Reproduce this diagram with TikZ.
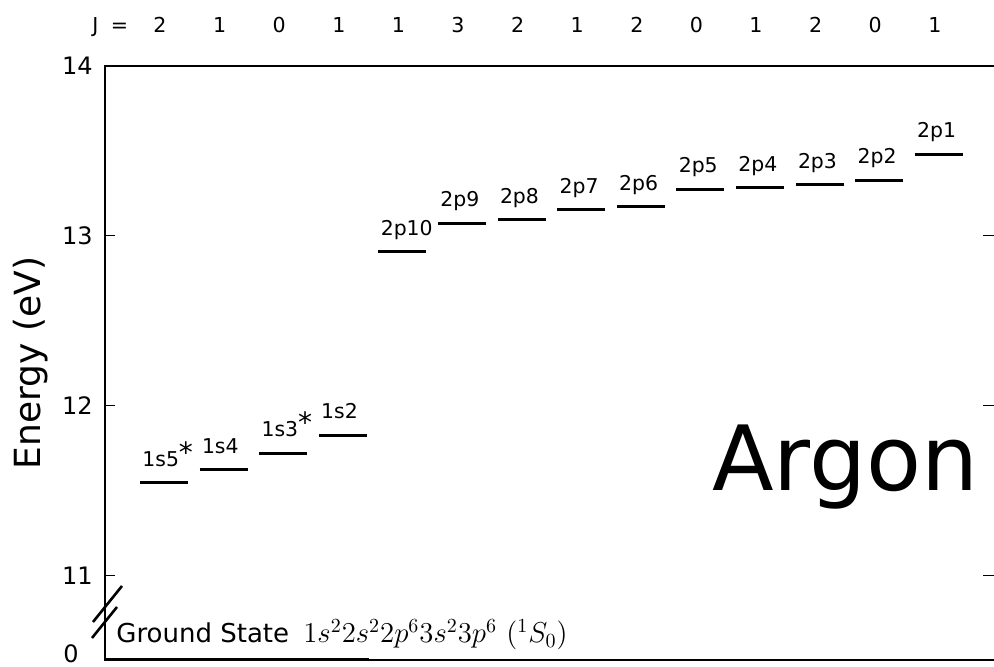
\documentclass[tikz,border=0pt]{standalone}
\usepackage{fontspec}
\setmainfont{DejaVu Sans}
\usepackage{tikz}

\newcommand{\lvlstar}{\raisebox{1.8pt}{\fontsize{14}{14}\selectfont *}}

\begin{document}
\begin{tikzpicture}[
      x=0.5pt, y=85pt,
      spine/.style={line width=1pt},
      tick/.style={line width=0.5pt},
      lvl/.style={line width=1.5pt},
      brk/.style={line width=1.3pt},
      lbl/.style={anchor=base west, inner sep=0pt, yshift=8.3pt, font=\fontsize{10.2}{12}\selectfont},
      jval/.style={anchor=base, inner sep=0pt, font=\fontsize{10.3}{12}\selectfont},
      ticklbl/.style={anchor=east, inner sep=0pt, font=\fontsize{12}{14}\selectfont}
    ]
    \useasboundingbox (0,10.4647) rectangle (994,14.3882);
    %% axes
    \draw[spine] (994,14) -- (105,14) -- (105,10.5059) -- (994,10.5059);
    \draw[tick] (105,11) -- (115,11);
    \draw[tick] (105,12) -- (115,12);
    \draw[tick] (105,13) -- (115,13);
    \draw[tick] (983,11) -- (994,11);
    \draw[tick] (983,12) -- (994,12);
    \draw[tick] (983,13) -- (994,13);
    \node[ticklbl] (t14) at (93,14) {14};
    \node[ticklbl] (t13) at (93,13) {13};
    \node[ticklbl] (t12) at (93,12) {12};
    \node[ticklbl] (t11) at (93,11) {11};
    \node[ticklbl] (t0)  at (79,10.545) {0};
    \node[rotate=90, anchor=base, inner sep=0pt, font=\fontsize{18}{20}\selectfont] (ylab) at (40,12.253) {Energy (eV)};
    %% axis break
    \draw[brk] (93,10.7294) -- (122,10.9412);
    \draw[brk] (92,10.6353) -- (117,10.8176);
    %% ground state
    \draw[lvl] (105,10.5059) -- (369,10.5059);
    \node[anchor=base west, inner sep=0pt, font=\fontsize{13}{15}\selectfont] (gs) at (116,10.6059)
      {Ground State\hspace{3pt} {\fontsize{14.7}{16}\selectfont $1s^2 2s^2 2p^6 3s^2 3p^6$ $(^1S_0)$}};
    %% 1s levels
    \draw[lvl] (140,11.548) -- ++(48,0);
    \node[lbl] (n1s5) at (142,11.548) {1s5\lvlstar};
    \draw[lvl] (199.6,11.624) -- ++(48,0);
    \node[lbl] (n1s4) at (201.6,11.624) {1s4};
    \draw[lvl] (259.2,11.723) -- ++(48,0);
    \node[lbl] (n1s3) at (261.2,11.723) {1s3\lvlstar};
    \draw[lvl] (318.8,11.828) -- ++(48,0);
    \node[lbl] (n1s2) at (320.8,11.828) {1s2};
    %% 2p levels
    \draw[lvl] (378.4,12.907) -- ++(48,0);
    \node[lbl] (n2p10) at (380.4,12.907) {2p10};
    \draw[lvl] (438,13.076) -- ++(48,0);
    \node[lbl] (n2p9) at (440,13.076) {2p9};
    \draw[lvl] (497.6,13.095) -- ++(48,0);
    \node[lbl] (n2p8) at (499.6,13.095) {2p8};
    \draw[lvl] (557.2,13.153) -- ++(48,0);
    \node[lbl] (n2p7) at (559.2,13.153) {2p7};
    \draw[lvl] (616.8,13.172) -- ++(48,0);
    \node[lbl] (n2p6) at (618.8,13.172) {2p6};
    \draw[lvl] (676.4,13.273) -- ++(48,0);
    \node[lbl] (n2p5) at (678.4,13.273) {2p5};
    \draw[lvl] (736,13.283) -- ++(48,0);
    \node[lbl] (n2p4) at (738,13.283) {2p4};
    \draw[lvl] (795.6,13.302) -- ++(48,0);
    \node[lbl] (n2p3) at (797.6,13.302) {2p3};
    \draw[lvl] (855.2,13.328) -- ++(48,0);
    \node[lbl] (n2p2) at (857.2,13.328) {2p2};
    \draw[lvl] (914.8,13.480) -- ++(48,0);
    \node[lbl] (n2p1) at (916.8,13.480) {2p1};
    %% J values
    \node[jval, anchor=base west] (jeq) at (92,14.194) {J\hspace{0.6em}=};
    \node[jval] (j1s5)  at (160,14.194) {2};
    \node[jval] (j1s4)  at (219.6,14.194) {1};
    \node[jval] (j1s3)  at (279.2,14.194) {0};
    \node[jval] (j1s2)  at (338.8,14.194) {1};
    \node[jval] (j2p10) at (398.4,14.194) {1};
    \node[jval] (j2p9)  at (458,14.194) {3};
    \node[jval] (j2p8)  at (517.6,14.194) {2};
    \node[jval] (j2p7)  at (577.2,14.194) {1};
    \node[jval] (j2p6)  at (636.8,14.194) {2};
    \node[jval] (j2p5)  at (696.4,14.194) {0};
    \node[jval] (j2p4)  at (756,14.194) {1};
    \node[jval] (j2p3)  at (815.6,14.194) {2};
    \node[jval] (j2p2)  at (875.2,14.194) {0};
    \node[jval] (j2p1)  at (934.8,14.194) {1};
    %% title
    \node[anchor=base west, inner sep=0pt, font=\fontsize{45}{50}\selectfont] (title) at (712,11.5) {Argon};
  \end{tikzpicture}
\end{document}
